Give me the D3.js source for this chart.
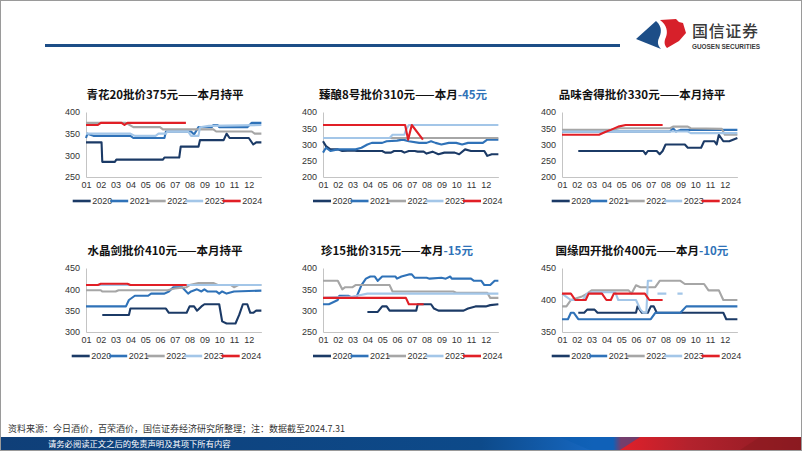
<!DOCTYPE html>
<html>
<head>
<meta charset="utf-8">
<script src="https://cdn.jsdelivr.net/npm/d3@7"></script>
<style>
body { margin:0; background:#fff; }
svg { display:block; font-family:"Liberation Sans", Arial, "Noto Sans CJK SC", sans-serif; }
</style>
</head>
<body>
<svg id="page" width="802" height="451"></svg>
<script>
// month tick labels + legend years
const months = ['01','02','03','04','05','06','07','08','09','10','11','12'];
const years = ['2020','2021','2022','2023','2024'];
const yearColors = ['#1b3a66','#2f72b8','#a6a6a6','#a3c6e8','#e11f26'];

// [month position, price] -- month 1 = start of Jan
// 青花20
const qh2020 = [[1,330],[2.05,330],[2.1,285],[2.95,285],[3.05,290],[6.2,290],[6.3,295],[7.3,295],[7.4,320],[8.6,320],[8.7,335],[10.3,335],[10.5,350],[10.7,340],[12.0,340],[12.3,325],[12.5,330],[12.85,330]];
const qh2021 = [[1,340],[1.1,350],[1.5,345],[4.0,345],[4.2,340],[6.3,340],[6.4,355],[8.1,355],[8.3,348],[8.6,365],[9.5,365],[9.6,370],[9.9,370],[10.0,365],[11.9,365],[12.2,375],[12.85,375]];
const qh2022 = [[1,375],[3.7,375],[4.2,365],[6.0,365],[6.2,360],[9.6,360],[9.8,355],[12.2,355],[12.4,350],[12.85,350]];
const qh2023 = [[1,350],[4.0,350],[4.3,345],[5.7,345],[5.9,350],[6.4,350],[6.5,355],[7.9,355],[8.1,345],[8.6,345],[8.7,365],[9.3,368],[12.85,370]];
const qh2024 = [[1,370],[1.8,370],[2.0,375],[3.4,375],[3.6,370],[3.8,375],[7.75,375]];
// 臻酿8号
const zn2020 = [[1,310],[1.2,295],[1.5,285],[2.0,285],[2.3,280],[3.0,282],[3.3,280],[5.0,280],[5.2,275],[5.6,275],[5.8,280],[6.3,280],[6.5,275],[6.8,280],[7.2,280],[7.4,278],[7.8,278],[8.0,272],[8.4,278],[8.8,270],[9.2,275],[9.9,275],[10.2,270],[10.6,285],[11.0,280],[11.9,280],[12.1,265],[12.4,270],[12.85,270]];
const zn2021 = [[1,275],[1.2,290],[1.5,280],[2.0,285],[3.2,285],[3.6,290],[4.0,300],[4.3,305],[5.0,305],[5.3,310],[6.0,312],[6.4,315],[6.8,310],[7.5,305],[8.0,305],[8.3,310],[8.6,305],[9.0,300],[9.5,305],[10.0,305],[10.4,300],[10.8,305],[11.8,305],[12.1,315],[12.85,315]];
const zn2022 = [[4.1,320],[12.85,320]];
const zn2023 = [[1,320],[5.5,320],[5.7,330],[6.5,330],[6.6,345],[6.8,360],[12.85,360]];
const zn2024 = [[1,360],[6.55,360],[6.75,315],[7.0,360],[7.75,315]];
// 品味舍得
const pw2020 = [[2.1,280],[6.5,280],[6.65,270],[6.8,280],[7.4,280],[7.6,270],[7.8,280],[8.0,300],[9.3,300],[9.5,290],[10.4,290],[10.6,310],[11.3,310],[11.45,300],[11.6,330],[11.9,310],[12.3,310],[12.85,320]];
const pw2021 = [[1,340],[8.3,340],[8.5,350],[8.7,340],[9.0,345],[12.85,345]];
const pw2022 = [[1,345],[4.3,345],[4.9,350],[8.3,350],[8.5,355],[9.5,355],[9.7,350],[11.8,348],[12.0,330],[12.85,330]];
const pw2023 = [[1,340],[9.5,340],[9.7,335],[12.85,335]];
const pw2024 = [[1,330],[3.5,330],[4.0,340],[4.3,345],[4.8,355],[5.3,360],[7.8,360]];
// 水晶剑
const sj2020 = [[2.1,340],[3.9,340],[4.0,355],[6.4,355],[6.6,345],[7.8,345],[8.0,360],[8.3,360],[8.5,350],[8.8,360],[9.0,365],[10.0,365],[10.2,325],[10.5,320],[11.1,320],[11.35,340],[11.6,365],[11.9,365],[12.1,345],[12.3,345],[12.5,350],[12.85,350]];
const sj2021 = [[1,360],[3.7,360],[3.9,375],[4.3,385],[5.2,385],[5.4,390],[6.3,390],[6.6,395],[6.9,405],[7.5,405],[7.9,390],[8.1,395],[8.5,400],[8.8,395],[9.0,400],[9.2,395],[9.8,395],[10.0,390],[10.2,395],[10.5,390],[11.0,395],[12.85,397]];
const sj2022 = [[1,398],[2.0,398],[2.1,395],[3.0,395],[3.2,398],[6.5,398],[7.0,402],[7.8,405],[8.0,410],[8.6,415],[9.6,415],[9.9,410],[10.8,410],[11.0,405],[11.3,410],[12.85,410]];
const sj2023 = [[1,410],[12.85,410]];
const sj2024 = [[1,410],[1.8,410],[2.0,413],[3.8,413],[4.0,410],[7.8,410]];
// 珍15
const zz2020 = [[4.0,297],[4.7,297],[5.0,310],[5.3,310],[5.5,300],[7.3,300],[7.4,315],[8.3,315],[8.5,305],[8.8,300],[10.5,300],[10.8,305],[11.3,310],[12.0,310],[12.3,313],[12.85,315]];
const zz2021 = [[1,315],[1.4,315],[2.0,325],[2.1,335],[2.7,335],[3.0,330],[3.3,335],[3.6,360],[3.9,375],[4.2,380],[4.5,380],[4.7,370],[5.0,380],[5.9,380],[6.0,375],[6.3,380],[6.8,385],[7.0,385],[7.2,377],[8.0,377],[8.2,375],[9.0,377],[9.3,375],[9.6,380],[9.7,375],[11.0,375],[11.2,370],[11.7,370],[11.9,360],[12.3,360],[12.6,370],[12.85,370]];
const zz2022 = [[1,370],[2.0,370],[2.3,350],[2.5,355],[3.0,355],[3.2,360],[5.5,360],[5.7,345],[9.8,345],[10.0,342],[12.1,342],[12.3,330],[12.85,330]];
const zz2023 = [[1,330],[3.0,333],[3.3,335],[4.0,340],[12.85,340]];
const zz2024 = [[1,330],[6.6,330],[6.8,315],[7.8,315]];
// 国缘四开
const gy2020 = [[2.1,380],[2.5,380],[2.7,385],[3.2,385],[3.4,380],[6.0,380],[6.1,390],[6.4,380],[6.8,380],[7.0,390],[7.2,390],[7.4,380],[11.9,380],[12.1,370],[12.85,370]];
const gy2021 = [[1,370],[1.4,370],[1.6,380],[1.8,380],[2.1,370],[7.0,370],[7.3,380],[9.0,380],[9.4,390],[12.85,390]];
const gy2022 = [[1,390],[1.3,390],[1.6,400],[2.3,405],[2.7,410],[3.0,415],[5.5,415],[5.7,410],[6.0,423],[6.3,420],[7.3,420],[7.6,430],[9.0,430],[9.3,425],[10.6,425],[10.9,415],[11.6,415],[11.9,400],[12.85,400]];
const gy2023 = [[1,410],[1.3,405],[1.6,400],[2.4,400],[2.7,410],[3.0,412],[4.6,412],[4.8,400],[6.0,400],[6.3,385],[6.5,380],[6.7,380],[6.8,430],[7.1,430],null,[7.45,410],[8.05,410],null,[8.8,410],[9.15,410]];
const gy2024 = [[1,410],[1.6,410],[1.9,400],[2.6,400],[2.8,410],[3.7,410],[4.0,400],[4.3,400],[4.5,410],[6.6,410],[6.9,400],[7.8,400]];

const titles = ['青花20批价375元——本月','臻酿8号批价310元——本月','品味舍得批价330元——本月','水晶剑批价410元——本月','珍15批价315元——本月','国缘四开批价400元——本月'];
const changes = ['持平','-45元','持平','持平','-15元','-10元'];
const yDomains = [[250,400],[200,400],[200,400],[300,450],[250,400],[350,450]];
const yTicks = [[250,300,350,400],[200,250,300,350,400],[200,250,300,350,400],[300,350,400,450],[250,300,350,400],[350,400,450]];
const seriesList = [
  [qh2020,qh2021,qh2022,qh2023,qh2024],
  [zn2020,zn2021,zn2022,zn2023,zn2024],
  [pw2020,pw2021,pw2022,pw2023,pw2024],
  [sj2020,sj2021,sj2022,sj2023,sj2024],
  [zz2020,zz2021,zz2022,zz2023,zz2024],
  [gy2020,gy2021,gy2022,gy2023,gy2024]
];

var svg = d3.select('#page');

// frame
svg.append('rect').attr('x',0.5).attr('y',0.5).attr('width',801).attr('height',450)
  .attr('fill','#fff').attr('stroke','#9a9a9a');

// header rule
svg.append('rect').attr('x',45).attr('y',44).attr('width',575).attr('height',3).attr('fill','#1d4e87');

// logo
var logo = svg.append('g');
logo.append('path').attr('d','M636,39 L656,21 C663,27 661,34 659,38 C657,42 658,46 661,49 Z').attr('fill','#1d4e87');
logo.append('path').attr('d','M660,20 L676,19 L679,22 L683,23 L686,33 L679,41 L667,48 C664,45 664,41 666,37 C668,32 667,25 660,20 Z').attr('fill','#d7202a');
logo.append('text').attr('x',692).attr('y',37).attr('font-family','"Noto Sans CJK SC"').attr('font-size',16)
  .attr('font-weight',500).attr('fill','#3a3a3a').attr('textLength',66).text('国信证券');
logo.append('text').attr('x',692).attr('y',48.5).attr('font-size',6.3).attr('font-weight','bold')
  .attr('fill','#3a3a3a').attr('textLength',68).attr('lengthAdjust','spacingAndGlyphs').text('GUOSEN SECURITIES');

const colX = [86,323,562];
const rowTop = [112,268];
const rowBottom = [177,332];
const titleCx = [165,403,642,165,397,642];
const legendX = [72.7,313,551.7,71.7,313,551.7];
const monthStep = 14.8;

function drawChart(idx) {
  var col = idx%3, row = Math.floor(idx/3);
  var x0 = colX[col];
  var x = d3.scaleLinear().domain([1,12.85]).range([x0, x0+11.85*monthStep]);
  var y = d3.scaleLinear().domain(yDomains[idx]).range([rowBottom[row], rowTop[row]]);
  var g = svg.append('g');

  var yAxis = g.append('g').attr('transform',`translate(${x0},0)`)
    .call(d3.axisLeft(y).tickValues(yTicks[idx]).tickSize(0).tickPadding(6));
  var xAxis = g.append('g').attr('transform',`translate(0,${rowBottom[row]})`)
    .call(d3.axisBottom(x).tickValues(d3.range(1,13)).tickFormat(function(d){ return months[d-1]; }).tickSize(0).tickPadding(5));
  [yAxis, xAxis].forEach(function(a){
    a.select('.domain').attr('stroke','#c4c4c4');
    a.selectAll('text').attr('font-size',9).attr('fill','#333');
  });

  var line = d3.line().defined(function(d){ return d!==null; })
    .x(function(d){ return x(d[0]); }).y(function(d){ return y(d[1]); });
  seriesList[idx].forEach(function(s,i){
    g.append('path').datum(s).attr('d',line).attr('fill','none')
      .attr('stroke',yearColors[i]).attr('stroke-width',2.1).attr('stroke-linejoin','round');
  });

  var t = g.append('text').attr('x',titleCx[idx]).attr('y',rowTop[row]-13).attr('text-anchor','middle')
    .attr('font-family','"Noto Sans CJK SC"').attr('font-size',11.5).attr('font-weight','bold').attr('fill','#111');
  t.append('tspan').text(titles[idx]);
  t.append('tspan').attr('fill',changes[idx]==='持平'?'#111':'#2f72b8').text(changes[idx]);

  var ly = rowBottom[row]+24;
  years.forEach(function(yr,i){
    var lx = legendX[idx]+i*37.5;
    g.append('line').attr('x1',lx).attr('x2',lx+18).attr('y1',ly).attr('y2',ly)
      .attr('stroke',yearColors[i]).attr('stroke-width',2.6);
    g.append('text').attr('x',lx+19.5).attr('y',ly+3.2).attr('font-size',9).attr('fill','#333').text(yr);
  });
}

for (var i=0;i<6;i++) { drawChart(i); }

// footer
svg.append('text').attr('x',8).attr('y',432).attr('font-family','"Noto Sans CJK SC"').attr('font-size',9)
  .attr('fill','#333').text('资料来源：今日酒价，百荣酒价，国信证券经济研究所整理；注：数据截至2024.7.31');

var defs = svg.append('defs');
var grad = defs.append('linearGradient').attr('id','band').attr('x1','0').attr('x2','1');
[[0,'#0f3f78'],[0.6,'#0d4a8a'],[0.74,'#1667c0'],[0.765,'#1667c0'],[0.775,'#e0202a'],[0.86,'#b3222d'],[1,'#8c1a22']]
  .forEach(function(s){ grad.append('stop').attr('offset',s[0]).attr('stop-color',s[1]); });
svg.append('rect').attr('x',1).attr('y',437).attr('width',800).attr('height',13).attr('fill','url(#band)');
svg.append('path').attr('d','M560,437 L640,437 L620,450 L590,450 Z').attr('fill','#0a5bb0').attr('opacity',0.5);
svg.append('path').attr('d','M740,450 L760,437 L801,437 L801,450 Z').attr('fill','#8a1a20').attr('opacity',0.6);
svg.append('text').attr('x',48).attr('y',447).attr('font-family','"Noto Sans CJK SC"').attr('font-size',8.3)
  .attr('fill','#fff').text('请务必阅读正文之后的免责声明及其项下所有内容');
</script>
</body>
</html>
